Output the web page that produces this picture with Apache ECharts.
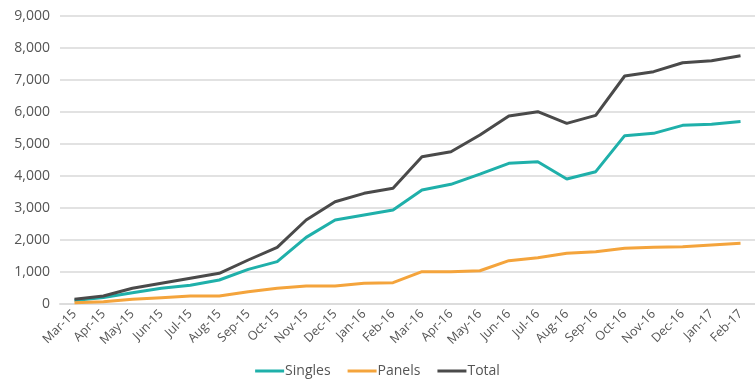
<!DOCTYPE html>
<html>
<head>
<meta charset="utf-8">
<script src="https://cdn.jsdelivr.net/npm/echarts@6/dist/echarts.min.js"></script>
<style>
  html, body { margin: 0; padding: 0; background: #fff; }
  #chart { width: 755px; height: 387px; }
</style>
</head>
<body>
<div id="chart"></div>
<script>
// Monthly cumulative counts, Mar 2015 – Feb 2017
const months = ['Mar-15','Apr-15','May-15','Jun-15','Jul-15','Aug-15','Sep-15','Oct-15','Nov-15','Dec-15','Jan-16','Feb-16',
                'Mar-16','Apr-16','May-16','Jun-16','Jul-16','Aug-16','Sep-16','Oct-16','Nov-16','Dec-16','Jan-17','Feb-17'];
const singles = [110, 200, 354, 490, 583, 750, 1083, 1323, 2083, 2625, 2781, 2938,
                 3560, 3740, 4060, 4396, 4447, 3906, 4135, 5260, 5333, 5583, 5615, 5700];
const panels  = [42, 73, 146, 198, 250, 250, 385, 490, 563, 563, 646, 667,
                 1010, 1010, 1040, 1354, 1448, 1583, 1635, 1740, 1771, 1792, 1844, 1896];
const total   = [146, 250, 490, 646, 802, 958, 1375, 1771, 2625, 3197, 3458, 3615,
                 4604, 4760, 5281, 5875, 6010, 5646, 5896, 7125, 7260, 7540, 7604, 7760];
const yTicks = { min: 0, max: 9000, step: 1000 };

const font = '"Open Sans", Lato, sans-serif';
const chart = echarts.init(document.getElementById('chart'));

function lineSeries(name, data, color) {
  return {
    name, type: 'line', data,
    symbol: 'none',
    lineStyle: { width: 3, color },
    itemStyle: { color },
    z: name === 'Total' ? 3 : 2
  };
}

chart.setOption({
  animation: false,
  textStyle: { fontFamily: font },
  grid: { left: 60, right: 0, top: 16, bottom: 83, containLabel: false },
  legend: {
    bottom: 4,
    left: 'center',
    itemWidth: 29,
    itemHeight: 3,
    itemGap: 17,
    icon: 'rect',
    textStyle: { fontFamily: font, fontSize: 14, color: '#555', padding: [0, 0, 0, -4] },
    data: ['Singles', 'Panels', 'Total']
  },
  xAxis: {
    type: 'category',
    data: months,
    boundaryGap: true,
    axisLine: { show: true, lineStyle: { color: '#dcdcdc', width: 2 } },
    axisTick: { show: false },
    axisLabel: { rotate: 45, fontSize: 12.5, color: '#555', margin: 8, interval: 0, fontFamily: font }
  },
  yAxis: {
    type: 'value',
    min: yTicks.min, max: yTicks.max, interval: yTicks.step,
    axisLine: { show: false },
    axisTick: { show: false },
    splitLine: { lineStyle: { color: '#e2e2e2', width: 2 } },
    axisLabel: {
      fontSize: 14, color: '#555', margin: 10, fontFamily: font,
      formatter: v => v.toLocaleString('en-US')
    }
  },
  series: [
    lineSeries('Singles', singles, '#1fb0aa'),
    lineSeries('Panels', panels, '#f4a43c'),
    lineSeries('Total', total, '#4a4a4a')
  ]
});
</script>
</body>
</html>
